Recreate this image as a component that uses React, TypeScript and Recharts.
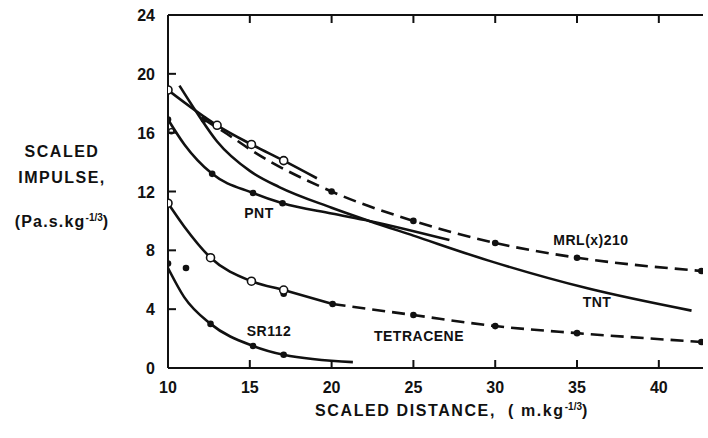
import { ComposedChart, Line, XAxis, YAxis } from 'recharts'

// axis ticks
const xTicks = [10, 15, 20, 25, 30, 35, 40]
const yTicks = [0, 4, 8, 12, 16, 20, 24]

// upper open-circle line (no label in figure)
const upperCurve = [
  { x: 10, y: 18.9 }, { x: 13, y: 16.5 }, { x: 15.1, y: 15.2 }, { x: 17.07, y: 14.1 }, { x: 19.1, y: 12.9 },
]
const upperOpen = [
  { x: 10, y: 18.9 }, { x: 13, y: 16.5 }, { x: 15.1, y: 15.2 }, { x: 17.07, y: 14.1 },
]

// TNT
const tntCurve = [
  { x: 10.7, y: 19.2 }, { x: 11.8, y: 17.3 }, { x: 13, y: 15.4 }, { x: 15, y: 13.4 }, { x: 16.8, y: 12.3 },
  { x: 20, y: 10.9 }, { x: 22.3, y: 10.0 }, { x: 25, y: 9.0 }, { x: 29.6, y: 7.3 }, { x: 35.7, y: 5.4 }, { x: 42, y: 3.9 },
]

// PNT
const pntCurve = [
  { x: 10, y: 16.9 }, { x: 11, y: 15.2 }, { x: 12.7, y: 13.2 }, { x: 15.2, y: 11.9 }, { x: 17, y: 11.2 },
  { x: 20, y: 10.5 }, { x: 22.3, y: 10.0 }, { x: 27.2, y: 8.7 },
]
const pntFilled = [
  { x: 10, y: 16.9 }, { x: 12.7, y: 13.2 }, { x: 15.2, y: 11.9 }, { x: 17, y: 11.2 },
]
const pntOpen = [{ x: 10.2, y: 16.1 }]

// MRL(x)210, dashed
const mrlCurve = [
  { x: 12.2, y: 16.9 }, { x: 13.9, y: 15.7 }, { x: 15.1, y: 14.8 }, { x: 20, y: 12.0 }, { x: 25, y: 10.0 },
  { x: 30, y: 8.5 }, { x: 35, y: 7.5 }, { x: 42.6, y: 6.6 },
]
const mrlFilled = [
  { x: 12.2, y: 16.9 }, { x: 20, y: 12.0 }, { x: 25, y: 10.0 }, { x: 30, y: 8.5 }, { x: 35, y: 7.5 }, { x: 42.6, y: 6.6 },
]

// Tetracene: solid part then dashed part
const tetSolid = [
  { x: 10, y: 11.2 }, { x: 11, y: 9.6 }, { x: 12.6, y: 7.5 }, { x: 15.1, y: 5.9 }, { x: 17.07, y: 5.3 }, { x: 20.06, y: 4.35 },
]
const tetDashed = [
  { x: 20.06, y: 4.35 }, { x: 25, y: 3.6 }, { x: 30, y: 2.85 }, { x: 35, y: 2.37 }, { x: 42.6, y: 1.77 },
]
const tetOpen = [
  { x: 10, y: 11.2 }, { x: 12.6, y: 7.5 }, { x: 15.1, y: 5.9 }, { x: 17.07, y: 5.3 },
]
const tetFilled = [
  { x: 17.07, y: 5.05 }, { x: 20.06, y: 4.35 }, { x: 25, y: 3.6 }, { x: 30, y: 2.85 }, { x: 35, y: 2.37 }, { x: 42.6, y: 1.77 },
]

// SR112
const srCurve = [
  { x: 10, y: 6.8 }, { x: 11, y: 4.8 }, { x: 12.6, y: 3.0 }, { x: 15.2, y: 1.5 }, { x: 17.07, y: 0.9 }, { x: 21.3, y: 0.4 },
]
const srFilled = [
  { x: 10, y: 7.1 }, { x: 11.1, y: 6.8 }, { x: 12.6, y: 3.0 }, { x: 15.2, y: 1.5 }, { x: 17.07, y: 0.9 },
]

const INK = '#111'
const FONT = '"Liberation Sans", Arial, Helvetica, sans-serif'
const DASH = '13 7'
const TICK = 8 // inward tick length
const GAP = 14 // label gap from axis

// eslint-disable-next-line @typescript-eslint/no-explicit-any
const openDot = (p: any) => (
  <circle key={`o${p.index}`} cx={p.cx} cy={p.cy} r={4} fill="#fff" stroke={INK} strokeWidth={1.6} />
)
// eslint-disable-next-line @typescript-eslint/no-explicit-any
const smallOpenDot = (p: any) => (
  <circle key={`s${p.index}`} cx={p.cx} cy={p.cy} r={2.6} fill="#fff" stroke={INK} strokeWidth={1.4} />
)
// eslint-disable-next-line @typescript-eslint/no-explicit-any
const filledDot = (p: any) => <circle key={`f${p.index}`} cx={p.cx} cy={p.cy} r={3.3} fill={INK} stroke="none" />

// Ticks point into the plot; labels stay outside. (x, y) is the label anchor Recharts hands in.
// eslint-disable-next-line @typescript-eslint/no-explicit-any
function BottomTick({ x, y, payload }: any) {
  const ay = y - GAP
  return (
    <g>
      {payload.value !== 10 && <line x1={x} y1={ay} x2={x} y2={ay - TICK} stroke={INK} strokeWidth={2} />}
      <text x={x} y={ay + 25} textAnchor="middle" fill={INK} fontSize={16} fontFamily={FONT} fontWeight={600}>
        {payload.value}
      </text>
    </g>
  )
}
// eslint-disable-next-line @typescript-eslint/no-explicit-any
function TopTick({ x, y, payload }: any) {
  const ay = y + GAP
  if (payload.value === 10) return <g />
  return <line x1={x} y1={ay} x2={x} y2={ay + TICK} stroke={INK} strokeWidth={2} />
}
// eslint-disable-next-line @typescript-eslint/no-explicit-any
function LeftTick({ x, y, payload }: any) {
  const ax = x + GAP
  return (
    <g>
      {payload.value % 24 !== 0 && <line x1={ax} y1={y} x2={ax + TICK} y2={y} stroke={INK} strokeWidth={2} />}
      <text x={ax - 13} y={y + 6} textAnchor="end" fill={INK} fontSize={16} fontFamily={FONT} fontWeight={600}>
        {payload.value}
      </text>
    </g>
  )
}
// eslint-disable-next-line @typescript-eslint/no-explicit-any
function RightTick({ x, y, payload }: any) {
  const ax = x - GAP
  if (payload.value % 24 === 0) return <g />
  return <line x1={ax} y1={y} x2={ax - TICK} y2={y} stroke={INK} strokeWidth={2} />
}

const lbl = (left: number, top: number, text: React.ReactNode, size = 14, spacing = 0.5) => (
  <div
    style={{
      position: 'absolute', left, top, transform: 'translate(-50%, -50%)', fontFamily: FONT,
      fontSize: size, lineHeight: 1, color: INK, whiteSpace: 'pre', letterSpacing: spacing, fontWeight: 600,
    }}
  >
    {text}
  </div>
)

const sup = <span style={{ fontSize: 10, position: 'relative', top: -6, letterSpacing: 0 }}>-1/3</span>

export default function App() {
  const line = (data: { x: number; y: number }[], dashed = false) => (
    <Line
      data={data}
      dataKey="y"
      type="monotone"
      stroke={INK}
      strokeWidth={2.6}
      strokeDasharray={dashed ? DASH : undefined}
      dot={false}
      activeDot={false}
      isAnimationActive={false}
    />
  )
  // eslint-disable-next-line @typescript-eslint/no-explicit-any
  const marks = (data: { x: number; y: number }[], dot: any) => (
    <Line data={data} dataKey="y" stroke="none" dot={dot} activeDot={false} isAnimationActive={false} />
  )

  const axisLine = { stroke: INK, strokeWidth: 2 }

  return (
    <div style={{ position: 'absolute', left: 0, top: 0, width: 708, height: 438, background: '#fff' }}>
      <ComposedChart width={708} height={438} margin={{ top: 0, right: 0, bottom: 0, left: 0 }}>
        <XAxis
          xAxisId={0}
          dataKey="x"
          type="number"
          domain={[10, 42.7]}
          ticks={xTicks}
          allowDataOverflow
          height={70}
          tickSize={0}
          tickMargin={GAP}
          axisLine={axisLine}
          tickLine={false}
          tick={<BottomTick />}
        />
        <XAxis
          xAxisId="top"
          orientation="top"
          dataKey="x"
          type="number"
          domain={[10, 42.7]}
          ticks={xTicks}
          allowDataOverflow
          height={15}
          tickSize={0}
          tickMargin={GAP}
          axisLine={axisLine}
          tickLine={false}
          tick={<TopTick />}
        />
        <YAxis
          yAxisId={0}
          dataKey="y"
          type="number"
          domain={[0, 24]}
          ticks={yTicks}
          width={168}
          tickSize={0}
          tickMargin={GAP}
          axisLine={axisLine}
          tickLine={false}
          tick={<LeftTick />}
        />
        <YAxis
          yAxisId="right"
          orientation="right"
          type="number"
          domain={[0, 24]}
          ticks={yTicks}
          width={5}
          tickSize={0}
          tickMargin={GAP}
          axisLine={false}
          tickLine={false}
          tick={<RightTick />}
        />
        {line(upperCurve)}
        {line(tntCurve)}
        {line(pntCurve)}
        {line(mrlCurve, true)}
        {line(tetSolid)}
        {line(tetDashed, true)}
        {line(srCurve)}
        {marks(pntFilled, filledDot)}
        {marks(mrlFilled, filledDot)}
        {marks(tetFilled, filledDot)}
        {marks(srFilled, filledDot)}
        {marks(upperOpen, openDot)}
        {marks(tetOpen, openDot)}
        {marks(pntOpen, smallOpenDot)}
      </ComposedChart>

      {lbl(259, 213, 'PNT')}
      {lbl(269, 331, 'SR112')}
      {lbl(419, 336, 'TETRACENE')}
      {lbl(597, 302, 'TNT')}
      {lbl(591, 240, 'MRL(x)210')}

      {lbl(62, 152, 'SCALED', 16, 1.5)}
      {lbl(62, 178, 'IMPULSE,', 16, 1.5)}
      {lbl(62, 222, <>(Pa.s.kg{sup})</>, 16, 1.2)}
      {lbl(452, 411, <>SCALED DISTANCE,  ( m.kg{sup})</>, 16, 1.6)}
    </div>
  )
}
